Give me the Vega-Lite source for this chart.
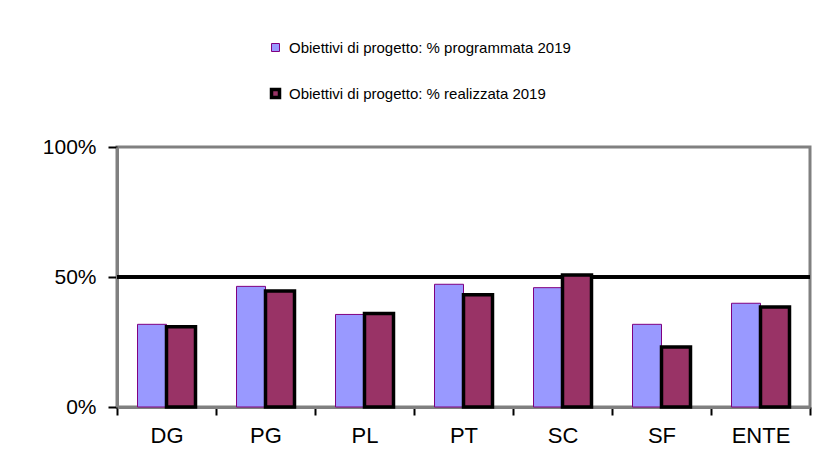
{
  "$schema": "https://vega.github.io/schema/vega-lite/v6.json",
  "width": 693,
  "height": 260,
  "autosize": {"type": "none"},
  "padding": {"left": 117, "top": 147, "right": 17, "bottom": 66},
  "background": "white",
  "config": {
    "view": {"stroke": "#808080", "strokeWidth": 3},
    "font": "Liberation Sans"
  },
  "data": {
    "values": [
      {"cat": "DG", "series": "Obiettivi di progetto: % programmata 2019", "value": 0.318},
      {"cat": "DG", "series": "Obiettivi di progetto: % realizzata 2019", "value": 0.309},
      {"cat": "PG", "series": "Obiettivi di progetto: % programmata 2019", "value": 0.464},
      {"cat": "PG", "series": "Obiettivi di progetto: % realizzata 2019", "value": 0.446},
      {"cat": "PL", "series": "Obiettivi di progetto: % programmata 2019", "value": 0.356},
      {"cat": "PL", "series": "Obiettivi di progetto: % realizzata 2019", "value": 0.360},
      {"cat": "PT", "series": "Obiettivi di progetto: % programmata 2019", "value": 0.472},
      {"cat": "PT", "series": "Obiettivi di progetto: % realizzata 2019", "value": 0.432},
      {"cat": "SC", "series": "Obiettivi di progetto: % programmata 2019", "value": 0.459},
      {"cat": "SC", "series": "Obiettivi di progetto: % realizzata 2019", "value": 0.508},
      {"cat": "SF", "series": "Obiettivi di progetto: % programmata 2019", "value": 0.318},
      {"cat": "SF", "series": "Obiettivi di progetto: % realizzata 2019", "value": 0.231},
      {"cat": "ENTE", "series": "Obiettivi di progetto: % programmata 2019", "value": 0.399},
      {"cat": "ENTE", "series": "Obiettivi di progetto: % realizzata 2019", "value": 0.385}
    ]
  },
  "layer": [
    {
      "mark": {"type": "rule", "color": "black", "strokeWidth": 2.5},
      "encoding": {
        "y": {"datum": 0.5, "type": "quantitative"}
      }
    },
    {
      "mark": {"type": "bar"},
      "encoding": {
        "x": {
          "field": "cat",
          "type": "nominal",
          "sort": ["DG", "PG", "PL", "PT", "SC", "SF", "ENTE"],
          "scale": {"paddingInner": 0, "paddingOuter": 0},
          "axis": {
            "title": null,
            "labelAngle": 0,
            "tickBand": "extent",
            "domainColor": "#808080",
            "domainWidth": 3,
            "tickColor": "black",
            "tickWidth": 2,
            "tickSize": 8,
            "labelFontSize": 22,
            "labelColor": "black",
            "labelPadding": 10
          }
        },
        "xOffset": {
          "field": "series",
          "type": "nominal",
          "sort": ["Obiettivi di progetto: % programmata 2019", "Obiettivi di progetto: % realizzata 2019"],
          "scale": {"paddingInner": 0, "paddingOuter": 0.707}
        },
        "y": {
          "field": "value",
          "type": "quantitative",
          "scale": {"domain": [0, 1]},
          "axis": {
            "title": null,
            "values": [0, 0.5, 1],
            "format": "%",
            "grid": false,
            "domainColor": "#808080",
            "domainWidth": 3,
            "tickColor": "black",
            "tickWidth": 2,
            "tickSize": 9,
            "labelFontSize": 21,
            "labelColor": "black",
            "labelPadding": 12
          }
        },
        "fill": {
          "field": "series",
          "type": "nominal",
          "sort": ["Obiettivi di progetto: % programmata 2019", "Obiettivi di progetto: % realizzata 2019"],
          "scale": {
            "domain": ["Obiettivi di progetto: % programmata 2019", "Obiettivi di progetto: % realizzata 2019"],
            "range": ["#9999FF", "#993366"]
          },
          "legend": {
            "title": null,
            "orient": "none",
            "legendX": 151,
            "legendY": -107,
            "padding": 0,
            "symbolType": "square",
            "symbolSize": 64,
            "labelFontSize": 15,
            "labelLimit": 500,
            "labelColor": "black",
            "rowPadding": 26,
            "labelOffset": 6
          }
        },
        "stroke": {
          "field": "series",
          "type": "nominal",
          "scale": {
            "domain": ["Obiettivi di progetto: % programmata 2019", "Obiettivi di progetto: % realizzata 2019"],
            "range": ["#800080", "#000000"]
          }
        },
        "strokeWidth": {
          "field": "series",
          "type": "nominal",
          "scale": {
            "domain": ["Obiettivi di progetto: % programmata 2019", "Obiettivi di progetto: % realizzata 2019"],
            "range": [1, 3.5]
          }
        }
      }
    }
  ]
}
